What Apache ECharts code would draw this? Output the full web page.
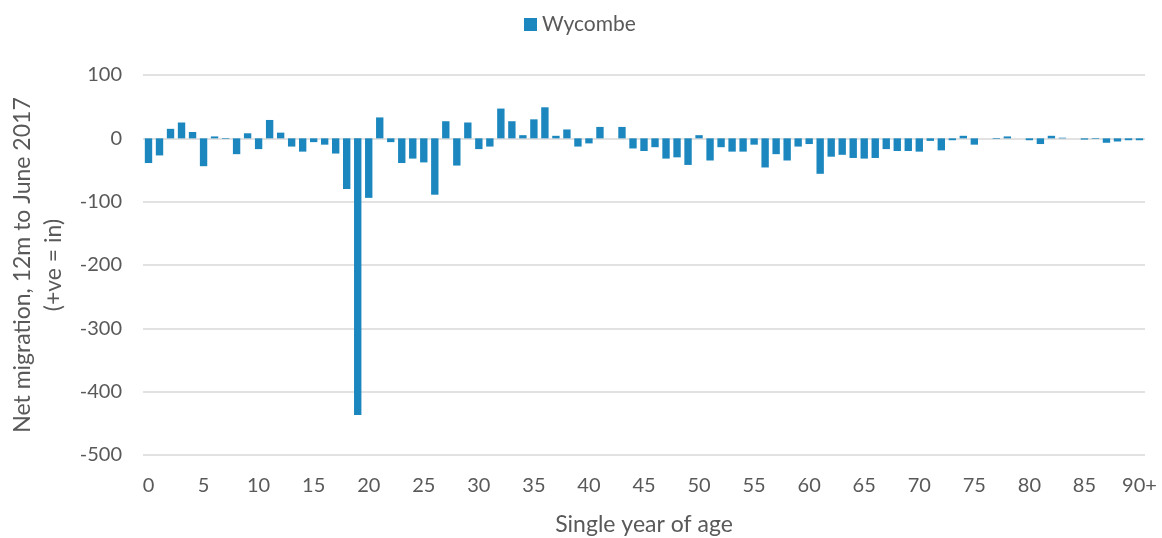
<!DOCTYPE html>
<html>
<head>
<meta charset="utf-8">
<script src="https://cdn.jsdelivr.net/npm/echarts@6/dist/echarts.min.js"></script>
<style>
  html, body { margin: 0; padding: 0; background: #fff; }
  #chart { width: 1162px; height: 538px; }
</style>
</head>
<body>
<div id="chart"></div>
<script>
// ages 0..89, then 90+
const ages = []
for (let i = 0; i < 90; i++) ages.push(String(i))
ages.push('90+')

const wycombe = [
  -39, -27, 15, 25, 10, -44, 3, -1, -25, 8,
  -17, 29, 9, -13, -21, -6, -10, -24, -80, -437,
  -94, 33, -6, -39, -32, -38, -89, 27, -43, 25,
  -17, -13, 47, 27, 5, 30, 49, 4, 14, -13,
  -8, 18, 0, 18, -16, -20, -14, -32, -30, -42,
  5, -35, -14, -21, -21, -10, -46, -25, -35, -13,
  -9, -56, -29, -26, -31, -32, -31, -17, -20, -20,
  -21, -4, -19, -3, 4, -10, 0, -1, 3, 0,
  -3, -9, 4, 1, 0, -2, -1, -7, -5, -3,
  -3
]

const textColor = '#595959'
const font = 'Lato, "Open Sans", sans-serif'

const chart = echarts.init(document.getElementById('chart'))
chart.setOption({
  animation: false,
  textStyle: { fontFamily: font, color: textColor },
  legend: {
    top: 9,
    left: 519,
    itemWidth: 13,
    itemHeight: 13,
    itemGap: 6,
    icon: 'rect',
    textStyle: { fontSize: 21, color: textColor, fontFamily: font },
    data: ['Wycombe']
  },
  grid: {
    left: 143,
    right: 17,
    top: 75,
    bottom: 83,
    outerBoundsMode: 'none'
  },
  xAxis: {
    type: 'category',
    data: ages,
    name: 'Single year of age',
    nameLocation: 'middle',
    nameGap: 58,
    nameTextStyle: { fontSize: 23, color: textColor },
    axisLine: { show: false },
    axisTick: { show: false },
    axisLabel: { interval: 4, fontSize: 20, color: textColor, margin: 21 }
  },
  yAxis: {
    type: 'value',
    min: -500,
    max: 100,
    interval: 100,
    name: 'Net migration, 12m to June 2017\n(+ve = in)',
    nameLocation: 'middle',
    nameGap: 73,
    nameTextStyle: { fontSize: 23, color: textColor, lineHeight: 31 },
    axisLine: { show: false },
    axisTick: { show: false },
    axisLabel: { fontSize: 20, color: textColor, margin: 21 },
    splitLine: { lineStyle: { color: '#d9d9d9', width: 1.5 } }
  },
  series: [{
    name: 'Wycombe',
    type: 'bar',
    data: wycombe,
    barCategoryGap: '33%',
    itemStyle: { color: '#1B87BE' }
  }]
})
</script>
</body>
</html>
